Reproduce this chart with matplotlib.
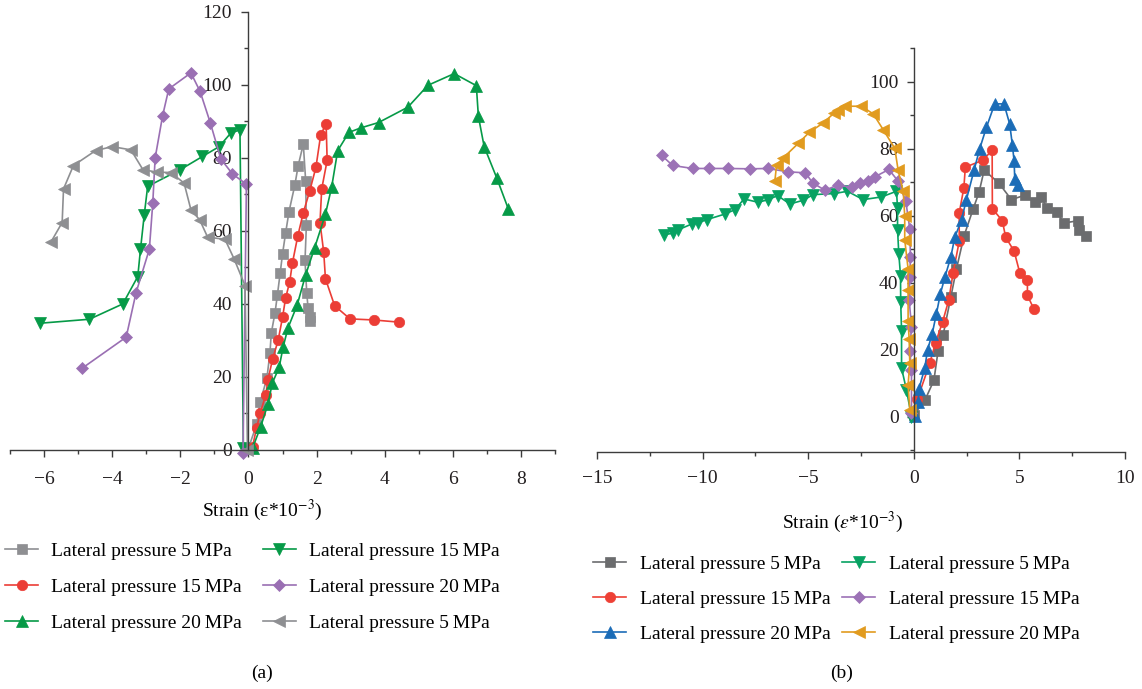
import numpy as np
import matplotlib.pyplot as plt
from matplotlib.ticker import MultipleLocator

plt.rcParams['font.family'] = ['Liberation Serif', 'DejaVu Serif']
plt.rcParams['mathtext.fontset'] = 'stix'
plt.rcParams['font.size'] = 14

# ---- panel (a) data: strain (x1e-3) vs stress ----
a_s5_x = [0.0, 0.24, 0.34, 0.54, 0.63, 0.67, 0.78, 0.85, 0.93, 1.0, 1.09, 1.19, 1.36, 1.46, 1.61,
          1.68, 1.70, 1.66, 1.71, 1.75, 1.80, 1.80]
a_s5_y = [0.5, 7.0, 13.0, 19.6, 26.5, 32.0, 37.6, 42.5, 48.4, 53.7, 59.4, 65.3, 72.5, 77.9, 83.8,
          73.6, 61.5, 51.9, 43.1, 38.8, 36.5, 35.2]

a_s15_x = [0.12, 0.24, 0.34, 0.51, 0.57, 0.71, 0.87, 1.0, 1.09, 1.21, 1.29, 1.45, 1.61, 1.80, 1.98,
           2.12, 2.28, 2.31, 2.15, 2.10, 2.21, 2.26, 2.53, 2.98, 3.68, 4.43]
a_s15_y = [0.9, 6.1, 10.0, 15.1, 19.2, 24.9, 30.0, 36.3, 41.6, 46.0, 51.2, 58.7, 65.0, 71.0, 77.4,
           86.3, 89.4, 79.3, 71.5, 62.3, 54.1, 46.9, 39.5, 35.9, 35.6, 35.0]

a_s20_x = [0.12, 0.36, 0.57, 0.70, 0.90, 1.02, 1.16, 1.43, 1.68, 1.94, 2.26, 2.44, 2.62, 2.95, 3.29,
           3.82, 4.68, 5.27, 6.04, 6.69, 6.75, 6.92, 7.29, 7.63]
a_s20_y = [0.5, 6.4, 12.5, 18.3, 22.6, 28.3, 33.4, 39.7, 48.0, 55.3, 64.6, 71.9, 82.0, 87.0, 88.2,
           89.7, 93.9, 99.9, 103.1, 99.8, 91.4, 83.1, 74.5, 66.0]

a_l15_x = [-0.15, -0.25, -0.52, -0.86, -1.35, -2.0, -2.96, -3.06, -3.17, -3.25, -3.69, -4.67, -6.13]
a_l15_y = [0.5, 87.7, 86.8, 83.1, 80.4, 76.8, 72.2, 64.4, 55.0, 47.5, 40.0, 35.8, 34.7]

a_l20_x = [-0.16, -0.06, -0.47, -0.81, -1.12, -1.42, -1.69, -2.34, -2.52, -2.74, -2.81, -2.91,
           -3.30, -3.59, -4.88]
a_l20_y = [-0.9, 72.8, 75.6, 79.7, 89.6, 98.2, 103.3, 98.9, 91.6, 80.0, 67.6, 55.0, 43.1, 30.9, 22.4]

a_l5_x = [-0.03, -0.10, -0.42, -0.69, -1.20, -1.43, -1.69, -1.89, -2.28, -2.69, -3.10, -3.45, -4.0,
          -4.49, -5.14, -5.43, -5.47, -5.79]
a_l5_y = [0.0, 45.0, 52.3, 57.7, 58.3, 63.0, 65.8, 73.1, 76.0, 76.1, 76.8, 82.2, 83.1, 82.0, 77.9,
          71.5, 62.3, 57.1]

# ---- panel (b) data ----
b_s5_x = [0.0, 0.52, 0.95, 1.15, 1.39, 1.75, 2.02, 2.38, 2.81, 3.09, 3.33, 4.02, 4.62, 5.25, 5.73,
          6.04, 6.31, 6.78, 7.10, 7.78, 7.82, 8.14]
b_s5_y = [0.5, 4.8, 10.8, 19.6, 24.4, 35.6, 44.1, 54.0, 62.0, 67.0, 73.6, 69.8, 64.8, 66.1, 64.1,
          65.5, 62.3, 61.1, 57.8, 58.5, 55.8, 53.8]

b_s15_x = [0.17, 0.76, 1.03, 1.36, 1.66, 1.86, 2.15, 2.15, 2.37, 2.44, 3.28, 3.71, 3.72, 4.19,
           4.35, 4.75, 5.02, 5.38, 5.38, 5.68]
b_s15_y = [5.2, 16.0, 22.1, 28.2, 34.9, 42.9, 52.3, 60.8, 68.3, 74.5, 76.6, 79.6, 62.1, 58.5, 53.6,
           49.4, 42.9, 40.9, 36.2, 32.2]

b_s20_x = [0.05, 0.21, 0.24, 0.52, 0.65, 0.87, 1.07, 1.26, 1.47, 1.75, 1.94, 2.26, 2.49, 2.85,
           3.12, 3.44, 3.83, 4.27, 4.54, 4.67, 4.75, 4.78, 4.94]
b_s20_y = [0.2, 4.2, 8.2, 14.5, 19.9, 24.7, 30.7, 36.7, 41.6, 47.6, 53.5, 58.8, 64.8, 73.5, 80.0,
           86.4, 93.4, 93.4, 87.4, 81.0, 76.3, 71.0, 69.1]

b_l5_x = [-0.11, -0.35, -0.58, -0.58, -0.62, -0.63, -0.71, -0.77, -0.77, -0.82, -1.53, -2.40,
          -3.14, -3.77, -4.76, -5.24, -5.87, -6.45, -6.89, -7.37, -8.04, -8.47, -8.94, -9.81,
          -10.24, -10.52, -11.15, -11.39, -11.81]
b_l5_y = [0.0, 8.0, 14.5, 25.7, 34.1, 42.1, 48.6, 55.8, 62.3, 67.3, 65.6, 64.8, 67.3, 66.6, 66.3,
          64.6, 63.5, 66.0, 64.8, 64.0, 65.0, 61.8, 60.5, 58.8, 57.8, 57.5, 55.8, 54.8, 54.3]

b_l15_x = [-0.11, -0.11, -0.19, -0.11, -0.22, -0.19, -0.16, -0.19, -0.38, -0.74, -1.18, -1.85,
           -2.16, -2.56, -2.95, -3.61, -4.21, -4.79, -5.13, -5.95, -6.92, -7.76, -8.79, -9.68,
           -10.47, -11.42, -11.94]
b_l15_y = [1.0, 14.0, 19.6, 26.9, 34.9, 41.7, 47.7, 56.1, 64.3, 70.3, 73.8, 71.6, 70.3, 69.8,
           68.5, 69.1, 67.6, 69.8, 72.8, 73.1, 74.1, 74.0, 74.1, 74.1, 74.1, 75.0, 78.0]

b_l20_x = [-0.19, -0.27, -0.19, -0.22, -0.27, -0.27, -0.27, -0.43, -0.43, -0.50, -0.74, -0.90,
           -1.45, -1.92, -2.48, -3.26, -3.61, -3.77, -4.29, -4.95, -5.47, -6.18, -6.50, -6.58]
b_l20_y = [2.0, 9.5, 16.0, 23.1, 28.6, 37.9, 44.1, 52.8, 59.8, 67.3, 73.5, 80.1, 85.7, 90.4, 92.7,
           92.7, 91.5, 90.7, 87.7, 84.9, 81.6, 77.3, 75.1, 70.3]

fig = plt.figure(figsize=(11.42, 6.89), dpi=100)
ax1 = fig.add_axes([0.0088, 0.347, 0.4772, 0.6357])
ax2 = fig.add_axes([0.5228, 0.3444, 0.4623, 0.5855])

gray_a = '#8e8f92'
green_a = '#069a47'
series_a = [
    (a_s5_x, a_s5_y, gray_a, 's', 6.5, 'Lateral pressure 5\u2009MPa'),
    (a_s15_x, a_s15_y, '#eb3d36', 'o', 7.5, 'Lateral pressure 15\u2009MPa'),
    (a_s20_x, a_s20_y, green_a, '^', 8, 'Lateral pressure 20\u2009MPa'),
    (a_l15_x, a_l15_y, green_a, 'v', 8, 'Lateral pressure 15\u2009MPa'),
    (a_l20_x, a_l20_y, '#9a6fb3', 'D', 6.5, 'Lateral pressure 20\u2009MPa'),
    (a_l5_x, a_l5_y, gray_a, '<', 8, 'Lateral pressure 5\u2009MPa'),
]
series_b = [
    (b_s5_x, b_s5_y, '#6b6c6e', 's', 6.5, 'Lateral pressure 5\u2009MPa'),
    (b_s15_x, b_s15_y, '#ee4035', 'o', 7.5, 'Lateral pressure 15\u2009MPa'),
    (b_s20_x, b_s20_y, '#1b6cb7', '^', 8, 'Lateral pressure 20\u2009MPa'),
    (b_l5_x, b_l5_y, '#07a262', 'v', 8, 'Lateral pressure 5\u2009MPa'),
    (b_l15_x, b_l15_y, '#9c72b6', 'D', 6.5, 'Lateral pressure 15\u2009MPa'),
    (b_l20_x, b_l20_y, '#e19b1f', '<', 8, 'Lateral pressure 20\u2009MPa'),
]

for ax, series in [(ax1, series_a), (ax2, series_b)]:
    for x, y, c, m, ms, lab in series:
        ax.plot(x, y, color=c, marker=m, markersize=ms, lw=1.2, mec=c, mew=0.5,
                label=lab, clip_on=False)

axis_col = '#3c3c3c'
for ax in (ax1, ax2):
    for s in ('top', 'right'):
        ax.spines[s].set_visible(False)
    for s in ('left', 'bottom'):
        ax.spines[s].set_color(axis_col)
        ax.spines[s].set_linewidth(1.0)
    ax.spines['left'].set_position(('data', 0))
    ax.tick_params(which='major', direction='out', length=5, width=1, color=axis_col,
                   labelsize=14, pad=5, labelcolor='#231f20')
    ax.tick_params(which='minor', direction='out', length=3, width=1, color=axis_col)

# panel (a) axes
ax1.set_xlim(-7, 9)
ax1.set_ylim(0, 120)
ax1.xaxis.set_major_locator(MultipleLocator(2))
ax1.xaxis.set_minor_locator(MultipleLocator(1))
ax1.yaxis.set_major_locator(MultipleLocator(20))
ax1.yaxis.set_minor_locator(MultipleLocator(10))
ax1.tick_params(axis='x', which='major', pad=10)
ax1.tick_params(axis='y', which='major', pad=7)
ax1.set_xlabel('Strain (ε*10$^{-3}$)', fontsize=14)
ax1.xaxis.set_label_coords(0.462, -0.11)

# panel (b) axes
ax2.set_xlim(-15, 10)
ax2.set_ylim(-10.5, 110)
ax2.xaxis.set_major_locator(MultipleLocator(5))
ax2.xaxis.set_minor_locator(MultipleLocator(2.5))
ax2.yaxis.set_major_locator(MultipleLocator(20))
ax2.yaxis.set_minor_locator(MultipleLocator(10))
ax2.set_yticks([0, 20, 40, 60, 80, 100])
ax2.tick_params(axis='x', which='major', pad=8)
ax2.tick_params(axis='y', which='major', pad=6)
ax2.set_xlabel('Strain ($\\varepsilon$*10$^{-3}$)', fontsize=14)
ax2.xaxis.set_label_coords(0.464, -0.145)

ax1.legend(loc='upper left', bbox_to_anchor=(5 / 1142, 1 - 542 / 689), bbox_transform=fig.transFigure,
           ncol=2, frameon=False, fontsize=14, borderpad=0, borderaxespad=0,
           handlelength=1.7, handletextpad=0.65, columnspacing=1.1, labelspacing=0.95)
ax2.legend(loc='upper left', bbox_to_anchor=(593 / 1142, 1 - 555 / 689), bbox_transform=fig.transFigure,
           ncol=2, frameon=False, fontsize=14, borderpad=0, borderaxespad=0,
           handlelength=1.7, handletextpad=0.7, columnspacing=0.6, labelspacing=0.9)

fig.text(262 / 1142, 1 - 673 / 689, '(a)', ha='center', va='center', fontsize=14)
fig.text(842 / 1142, 1 - 673 / 689, '(b)', ha='center', va='center', fontsize=14)

fig.savefig('out.png', dpi=100)
